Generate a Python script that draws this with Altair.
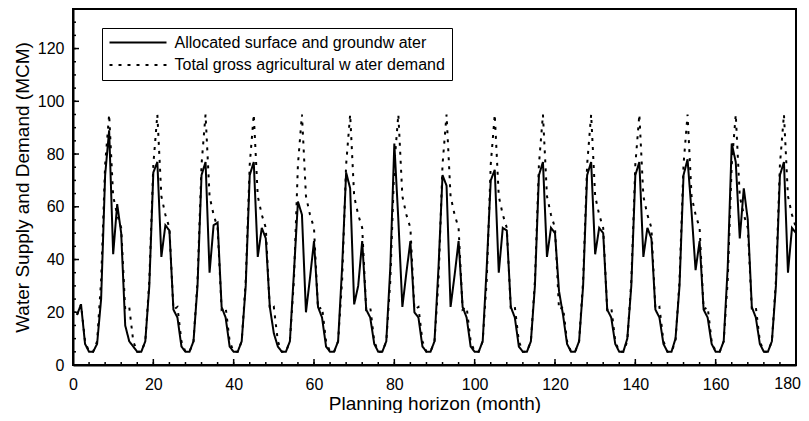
import altair as alt
import pandas as pd

# ---- data ----
months = list(range(1, 181))

allocated_by_year = [
    [19, 23, 8, 5, 5, 8, 25, 72, 89, 42, 61, 50],
    [15, 9, 7, 5, 5, 9, 30, 73, 77, 41, 53, 51],
    [21, 18, 7, 5, 5, 9, 30, 72, 77, 35, 53, 54],
    [22, 18, 7, 5, 5, 9, 30, 72, 77, 41, 52, 48],
    [22, 12, 7, 5, 5, 9, 35, 62, 57, 20, 33, 47],
    [22, 18, 7, 5, 5, 9, 37, 73, 67, 23, 30, 47],
    [21, 18, 8, 5, 5, 9, 37, 84, 55, 22, 35, 47],
    [20, 18, 7, 5, 5, 9, 37, 72, 68, 22, 34, 47],
    [22, 18, 7, 5, 5, 9, 37, 70, 74, 35, 52, 51],
    [22, 18, 7, 5, 5, 9, 30, 72, 77, 41, 52, 50],
    [28, 19, 8, 5, 5, 9, 30, 72, 77, 42, 52, 50],
    [21, 18, 8, 5, 5, 10, 30, 72, 77, 41, 52, 48],
    [21, 18, 8, 5, 5, 10, 30, 72, 78, 58, 36, 47],
    [21, 18, 8, 5, 5, 9, 37, 84, 77, 48, 67, 55],
    [22, 18, 8, 5, 5, 9, 30, 72, 77, 35, 52, 50],
]

demand_by_year = [
    [19, 23, 9, 5, 5, 9, 32, 76, 95, 64, 57, 52],
    [21, 22, 9, 5, 5, 9, 32, 76, 95, 64, 57, 52],
    [21, 22, 9, 5, 5, 9, 32, 76, 95, 64, 57, 52],
    [21, 22, 9, 5, 5, 9, 32, 76, 95, 64, 57, 52],
    [21, 22, 9, 5, 5, 9, 32, 76, 95, 64, 57, 52],
    [21, 22, 9, 5, 5, 9, 32, 76, 95, 64, 57, 52],
    [21, 22, 9, 5, 5, 9, 32, 76, 95, 64, 57, 52],
    [21, 22, 9, 5, 5, 9, 32, 76, 95, 64, 57, 52],
    [21, 22, 9, 5, 5, 9, 32, 76, 95, 64, 57, 52],
    [21, 22, 9, 5, 5, 9, 32, 76, 95, 64, 57, 52],
    [21, 22, 9, 5, 5, 9, 32, 76, 95, 64, 57, 52],
    [21, 22, 9, 5, 5, 9, 32, 76, 95, 64, 57, 52],
    [21, 22, 9, 5, 5, 9, 32, 76, 95, 64, 57, 52],
    [21, 22, 9, 5, 5, 9, 32, 76, 95, 64, 57, 52],
    [21, 22, 9, 5, 5, 9, 32, 76, 95, 64, 57, 52],
]

series_names = [
    "Allocated surface and groundw ater",
    "Total gross agricultural w ater demand",
]

x_major = list(range(0, 181, 20))
x_minor = list(range(0, 181, 4))
y_major = list(range(0, 121, 20))
y_minor = list(range(0, 136, 5))
x_last_label = [180]

allocated = [v for row in allocated_by_year for v in row]
demand = [v for row in demand_by_year for v in row]

df = pd.DataFrame({
    "month": months + months,
    "value": allocated + demand,
    "series": [series_names[0]] * len(months) + [series_names[1]] * len(months),
})

FONT = "Liberation Sans"
W, H = 723, 356

xscale = alt.Scale(domain=[0, 180], nice=False, zero=False)
yscale = alt.Scale(domain=[0, 135], nice=False)

xaxis = alt.Axis(values=x_major, ticks=False, grid=False,
                 title="Planning horizon (month)",
                 labelExpr="datum.value == 180 ? '' : datum.label",
                 labelFontSize=16, titleFontSize=19,
                 labelPadding=11, titlePadding=2,
                 domainColor="black", domainWidth=2,
                 labelColor="black", titleColor="black",
                 labelFlush=False, titleFontWeight="normal",
                 labelFont=FONT, titleFont=FONT)
yaxis = alt.Axis(values=y_major, ticks=False, grid=False,
                 title="Water Supply and Demand (MCM)",
                 labelFontSize=16, titleFontSize=19,
                 labelPadding=9, titlePadding=5,
                 domainColor="black", domainWidth=2,
                 labelColor="black", titleColor="black",
                 titleFontWeight="normal",
                 labelFont=FONT, titleFont=FONT)

lines = alt.Chart(df).mark_line(color="black", strokeWidth=2).encode(
    x=alt.X("month:Q", scale=xscale, axis=xaxis),
    y=alt.Y("value:Q", scale=yscale, axis=yaxis),
    strokeDash=alt.StrokeDash(
        "series:N",
        scale=alt.Scale(domain=series_names, range=[[1, 0], [3, 6]]),
        legend=alt.Legend(title=None, orient="none", legendX=29, legendY=19,
                          symbolType="stroke", symbolSize=3249,
                          symbolStrokeWidth=2, symbolStrokeColor="black",
                          labelFontSize=16, labelFont=FONT, labelColor="black",
                          labelOffset=7, clipHeight=16, rowPadding=6.5,
                          padding=6.5, strokeColor="black", fillColor="white",
                          labelLimit=500),
    ),
)

def xticks(vals, length):
    return alt.Chart(pd.DataFrame({"month": vals})).mark_rule(color="black", strokeWidth=1.5).encode(
        x=alt.X("month:Q", scale=xscale, axis=xaxis),
        y=alt.value(H), y2=alt.value(H - length),
    )

def yticks(vals, length):
    return alt.Chart(pd.DataFrame({"value": vals})).mark_rule(color="black", strokeWidth=1.5).encode(
        y=alt.Y("value:Q", scale=yscale, axis=yaxis),
        x=alt.value(0), x2=alt.value(length),
    )

# frame lines on the top and right edges of the plot
frame = alt.Chart(pd.DataFrame({"month": [180], "value": [135]})).mark_rule(
    color="black", strokeWidth=2
).encode(
    x=alt.X("month:Q", scale=xscale, axis=xaxis),
    y=alt.value(0), y2=alt.value(H),
)
frame_top = alt.Chart(pd.DataFrame({"month": [180], "value": [135]})).mark_rule(
    color="black", strokeWidth=2
).encode(
    y=alt.Y("value:Q", scale=yscale, axis=yaxis),
    x=alt.value(0), x2=alt.value(W),
)

# last x tick label, kept inside the page edge
last_label = alt.Chart(pd.DataFrame({"month": x_last_label})).mark_text(
    align="right", baseline="top", dx=5, fontSize=16, font=FONT, color="black"
).encode(
    x=alt.X("month:Q", scale=xscale, axis=xaxis),
    y=alt.value(H + 11),
    text=alt.Text("month:Q"),
)

chart = alt.layer(
    lines,
    xticks(x_minor, 3), xticks(x_major, 6),
    yticks(y_minor, 3), yticks(y_major, 6),
    frame, frame_top, last_label,
).properties(
    width=W, height=H,
    padding={"left": 65, "top": 1, "right": 5, "bottom": 48},
    autosize=alt.AutoSizeParams(type="none"),
).configure_view(stroke="black", strokeWidth=2)

chart.save("out.html", embed_options={"renderer": "svg", "actions": False})
